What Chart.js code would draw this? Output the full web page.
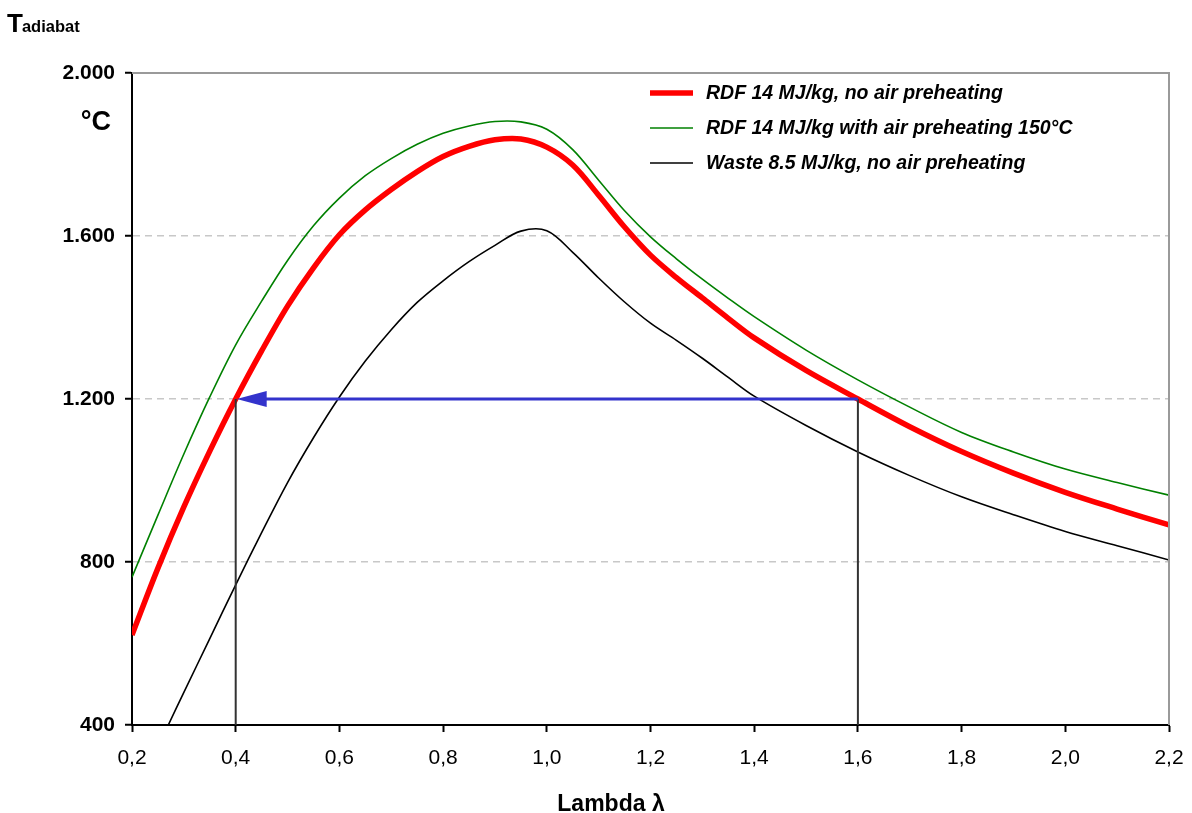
<!DOCTYPE html>
<html>
<head>
<meta charset="utf-8">
<script src="https://cdn.jsdelivr.net/npm/chart.js@4"></script>
<style>
  html, body { margin: 0; padding: 0; background: #fff; }
  #wrap { width: 1192px; height: 813px; }
</style>
</head>
<body>
<div id="wrap"><canvas id="tChart" width="1192" height="813"></canvas></div>
<script>
// lambda values for the RDF curves
var lambdaRdf = [0.2, 0.25, 0.3, 0.35, 0.4, 0.45, 0.5, 0.55, 0.6, 0.65, 0.7, 0.75, 0.8, 0.85, 0.9, 0.95, 1.0, 1.05, 1.1, 1.15, 1.2, 1.25, 1.3, 1.35, 1.4, 1.5, 1.6, 1.7, 1.8, 1.9, 2.0, 2.1, 2.2];
var rdfNoPreheat = [621, 785, 935, 1072, 1200, 1318, 1428, 1522, 1603, 1664, 1714, 1758, 1795, 1820, 1836, 1838, 1818, 1774, 1700, 1622, 1553, 1498, 1448, 1398, 1350, 1270, 1200, 1132, 1071, 1018, 971, 930, 891];
var rdfPreheat150 = [763, 915, 1065, 1205, 1333, 1440, 1540, 1625, 1693, 1748, 1790, 1825, 1852, 1870, 1881, 1880, 1862, 1812, 1737, 1662, 1598, 1544, 1494, 1447, 1402, 1320, 1247, 1180, 1118, 1070, 1028, 995, 964];

// lambda values for the waste curve
var lambdaWaste = [0.27, 0.3, 0.35, 0.4, 0.45, 0.5, 0.55, 0.6, 0.65, 0.7, 0.75, 0.8, 0.85, 0.9, 0.95, 1.0, 1.05, 1.1, 1.15, 1.2, 1.25, 1.3, 1.35, 1.4, 1.5, 1.6, 1.7, 1.8, 1.9, 2.0, 2.1, 2.2];
var waste85 = [400, 480, 612, 744, 872, 995, 1105, 1205, 1293, 1370, 1437, 1490, 1537, 1577, 1612, 1613, 1560, 1497, 1438, 1386, 1344, 1300, 1253, 1207, 1135, 1070, 1012, 960, 916, 875, 840, 805];

var seriesNames = ['RDF 14 MJ/kg, no air preheating', 'RDF 14 MJ/kg with air preheating 150°C', 'Waste 8.5 MJ/kg, no air preheating'];
var seriesColors = ['#ff0000', '#008000', '#000000'];
var seriesWidths = [5.5, 1.6, 1.6];

// example reading: T = 1200 at lambda 0.4 and 1.6
var readLambda = [0.4, 1.6];
var readTemp = 1200;
var yMin = 400;

var xTicks = [0.2, 0.4, 0.6, 0.8, 1.0, 1.2, 1.4, 1.6, 1.8, 2.0, 2.2];
var yTicks = [400, 800, 1200, 1600, 2000];

function pts(xs, ys) {
  return xs.map(function (x, i) { return { x: x, y: ys[i] }; });
}

var FONT = "Arial, 'Liberation Sans', sans-serif";

var extras = {
  id: 'extras',
  afterDatasetsDraw: function (chart) {
    var ctx = chart.ctx;
    var a = chart.chartArea;
    var xs = chart.scales.x, ys = chart.scales.y;
    ctx.save();
    // top and right frame
    ctx.strokeStyle = '#9a9a9a';
    ctx.lineWidth = 2;
    ctx.beginPath();
    ctx.moveTo(a.left, a.top);
    ctx.lineTo(a.right, a.top);
    ctx.lineTo(a.right, a.bottom);
    ctx.stroke();

    // arrow head
    var tipX = xs.getPixelForValue(readLambda[0]);
    var tipY = ys.getPixelForValue(readTemp);
    ctx.fillStyle = '#3333cc';
    ctx.beginPath();
    ctx.moveTo(tipX + 1, tipY);
    ctx.lineTo(tipX + 31, tipY - 8);
    ctx.lineTo(tipX + 31, tipY + 8);
    ctx.closePath();
    ctx.fill();

    // legend
    var lx = 650, ly = 93;
    ctx.font = 'italic bold 19.5px ' + FONT;
    ctx.textBaseline = 'middle';
    ctx.textAlign = 'left';
    seriesNames.forEach(function (name, i) {
      var y = ly + i * 35;
      ctx.strokeStyle = seriesColors[i];
      ctx.lineWidth = seriesWidths[i];
      ctx.beginPath();
      ctx.moveTo(lx, y);
      ctx.lineTo(lx + 43, y);
      ctx.stroke();
      ctx.fillStyle = '#000';
      ctx.fillText(name, lx + 56, y + 1);
    });

    // titles
    ctx.fillStyle = '#000';
    ctx.textBaseline = 'alphabetic';
    ctx.font = 'bold 26px ' + FONT;
    ctx.fillText('T', 7, 32);
    var tw = ctx.measureText('T').width;
    ctx.font = 'bold 16.5px ' + FONT;
    ctx.fillText('adiabat', 6 + tw, 32);
    ctx.font = 'bold 27px ' + FONT;
    ctx.textAlign = 'right';
    ctx.fillText('°C', 111, 130);
    ctx.textAlign = 'center';
    ctx.font = 'bold 23px ' + FONT;
    ctx.fillText('Lambda λ', 611, 811);
    ctx.restore();
  }
};

var ctx = document.getElementById('tChart').getContext('2d');
var chart = new Chart(ctx, {
  type: 'line',
  data: {
    datasets: [
      {
        label: 'arrow',
        data: pts([readLambda[1], readLambda[0] + 0.05], [readTemp, readTemp]),
        borderColor: '#3333cc', borderWidth: 3, pointRadius: 0
      },
      {
        label: 'v1',
        data: pts([readLambda[0], readLambda[0]], [yMin, readTemp]),
        borderColor: '#333333', borderWidth: 2, pointRadius: 0
      },
      {
        label: 'v2',
        data: pts([readLambda[1], readLambda[1]], [yMin, readTemp]),
        borderColor: '#333333', borderWidth: 2, pointRadius: 0
      },
      {
        label: seriesNames[0],
        data: pts(lambdaRdf, rdfNoPreheat),
        borderColor: seriesColors[0], borderWidth: seriesWidths[0], pointRadius: 0,
        tension: 0.35
      },
      {
        label: seriesNames[1],
        data: pts(lambdaRdf, rdfPreheat150),
        borderColor: seriesColors[1], borderWidth: seriesWidths[1], pointRadius: 0,
        tension: 0.35
      },
      {
        label: seriesNames[2],
        data: pts(lambdaWaste, waste85),
        borderColor: seriesColors[2], borderWidth: seriesWidths[2], pointRadius: 0,
        tension: 0.35
      }
    ]
  },
  options: {
    responsive: false,
    animation: false,
    layout: { padding: { left: 0, top: 73, right: 23, bottom: 0 } },
    plugins: { legend: { display: false }, tooltip: { enabled: false } },
    scales: {
      x: {
        type: 'linear',
        min: 0.2, max: 2.2,
        afterBuildTicks: function (s) { s.ticks = xTicks.map(function (v) { return { value: v }; }); },
        afterFit: function (s) { s.height = 88; s.paddingLeft = 0; s.paddingRight = 0; },
        grid: { drawOnChartArea: false, tickLength: 7, tickColor: '#000', tickWidth: 2 },
        border: { color: '#000', width: 2 },
        ticks: {
          color: '#000', padding: 14,
          font: { family: FONT, size: 21 },
          maxRotation: 0,
          callback: function (v) { return v.toFixed(1).replace('.', ','); }
        }
      },
      y: {
        min: 400, max: 2000,
        afterBuildTicks: function (s) { s.ticks = yTicks.map(function (v) { return { value: v }; }); },
        afterFit: function (s) { s.width = 132; s.paddingTop = 0; s.paddingBottom = 0; },
        grid: {
          color: function (c) {
            var v = c.tick && c.tick.value;
            return (v === 400 || v === 2000) ? 'rgba(0,0,0,0)' : '#c8c8c8';
          },
          lineWidth: 1.5,
          tickLength: 7, tickColor: '#000', tickWidth: 2
        },
        border: { color: '#000', width: 2, dash: [7, 5] },
        ticks: {
          color: '#000', padding: 10,
          font: { family: FONT, size: 21, weight: 'bold' },
          callback: function (v) { return v.toLocaleString('de-DE'); }
        }
      }
    }
  },
  plugins: [extras]
});
</script>
</body>
</html>
